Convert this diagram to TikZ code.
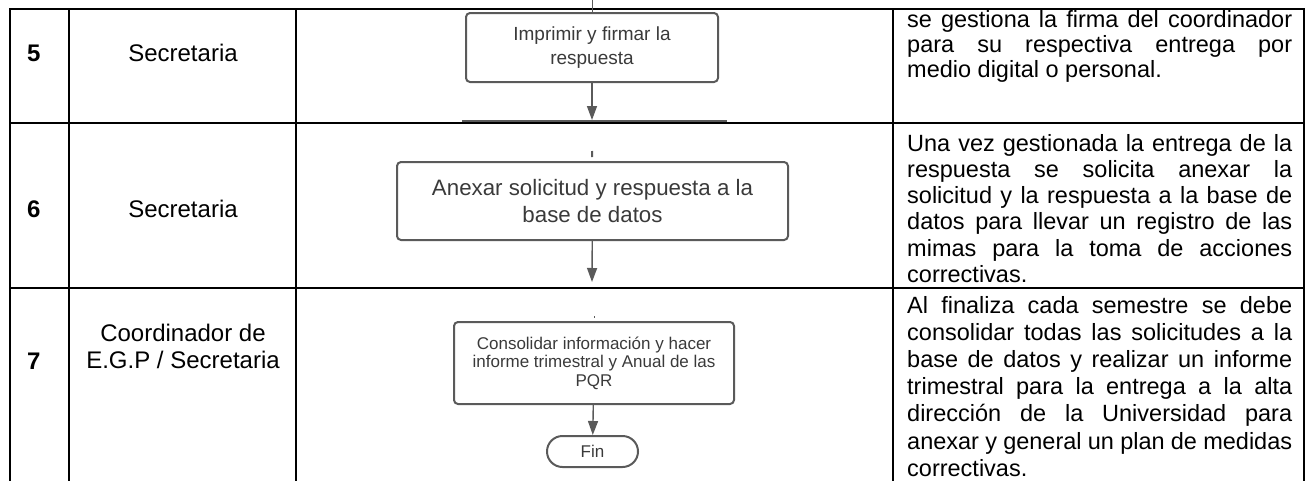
\documentclass[tikz,border=0pt]{standalone}
\usepackage{fontspec}
\setmainfont{Liberation Sans}
\usetikzlibrary{arrows.meta}
\definecolor{flowgray}{HTML}{5A5A5A}
\definecolor{flowtext}{HTML}{3A3A3A}

\begin{document}
\begin{tikzpicture}[x=1pt,y=-1pt,
  tabline/.style={line width=2pt,black,line cap=rect},
  flowbox/.style={draw=flowgray,line width=2pt,rounded corners=4pt,text=flowtext,align=center,inner sep=0pt},
  flowline/.style={draw=flowgray,line width=1.4pt},
  flowarrow/.style={flowline,-{Triangle[length=14pt,width=10pt]}},
  celltext/.style={anchor=base,inner sep=0pt,font=\fontsize{24}{27.5}\selectfont},
  numtext/.style={anchor=base west,inner sep=0pt,font=\fontsize{24}{27.5}\selectfont\bfseries},
  desctext/.style={anchor=base west,text width=385pt,align=justify,inner sep=0pt,
    execute at begin node={\tolerance=9999\hyphenpenalty=10000}}]
  \useasboundingbox (0,0) rectangle (1307,480);

  % Table
  \draw[tabline] (10,9) -- (1304,9);
  \draw[tabline] (10,123) -- (1304,123);
  \draw[tabline] (10,288) -- (1304,288);
  \foreach \x in {10,69,296,893,1304}
    \draw[tabline] (\x,9) -- (\x,480);

  % Row 5
  \node[numtext] (num5) at (27,61.5) {5};
  \node[celltext] (resp5) at (183,61.5) {Secretaria};
  \node[desctext,font=\fontsize{23.5}{25}\selectfont] (desc5) at (907,27) {%
    se gestiona la firma del coordinador\linebreak
    para su respectiva entrega por\linebreak
    medio digital o personal.};

  % Row 6
  \node[numtext] (num6) at (27,217) {6};
  \node[celltext] (resp6) at (183,217) {Secretaria};
  \node[desctext,font=\fontsize{23.5}{26.3}\selectfont] (desc6) at (907,151) {%
    Una vez gestionada la entrega de la\linebreak
    respuesta se solicita anexar la\linebreak
    solicitud y la respuesta a la base de\linebreak
    datos para llevar un registro de las\linebreak
    mimas para la toma de acciones\linebreak
    correctivas.};

  % Row 7
  \node[numtext] (num7) at (27,369) {7};
  \node[celltext,anchor=center,align=center] (resp7) at (183,346.5) {Coordinador de\\E.G.P / Secretaria};
  \node[desctext,font=\fontsize{23.5}{27.2}\selectfont] (desc7) at (907,313) {%
    Al finaliza cada semestre se debe\linebreak
    consolidar todas las solicitudes a la\linebreak
    base de datos y realizar un informe\linebreak
    trimestral para la entrega a la alta\linebreak
    dirección de la Universidad para\linebreak
    anexar y general un plan de medidas\linebreak
    correctivas.};

  % Flow chart
  \node[flowbox,minimum width=252pt,minimum height=69pt,font=\fontsize{19}{24}\selectfont] (imprimir) at (592,47.5) {Imprimir y firmar la\\respuesta};
  \node[flowbox,minimum width=391pt,minimum height=78pt,font=\fontsize{22.3}{27}\selectfont] (anexar) at (592.5,201) {Anexar solicitud y respuesta a la\\base de datos};
  \node[flowbox,minimum width=280pt,minimum height=82pt,font=\fontsize{17}{18.5}\selectfont] (consolidar) at (594,363) {Consolidar información y hacer\\informe trimestral y Anual de las\\PQR};
  \node[flowbox,rounded corners=15.5pt,minimum width=91pt,minimum height=31pt,font=\fontsize{17}{20}\selectfont] (fin) at (592.5,451.5) {Fin};

  \coordinate (top5) at (592,0);
  \coordinate (end5) at (592,120);
  \coordinate (cutL) at (462,121);
  \coordinate (cutR) at (727,121);
  \coordinate (tick6) at (592,151);
  \coordinate (end6) at (592,282);
  \coordinate (tick7) at (594,316);

  \draw[flowline,line width=0.8pt] (top5) -- (imprimir);
  \draw[flowarrow] (imprimir) -- (end5);
  \draw[flowline,line width=1.2pt] (cutL) -- (cutR);
  \draw[flowline,line width=2pt,shorten >=4pt] (tick6) -- (anexar);
  \draw[flowarrow] (anexar) -- (end6);
  \draw[flowline,line width=1pt,shorten >=3pt] (tick7) -- (consolidar);
  \draw[flowarrow] (consolidar) -- (fin);
\end{tikzpicture}
\end{document}
